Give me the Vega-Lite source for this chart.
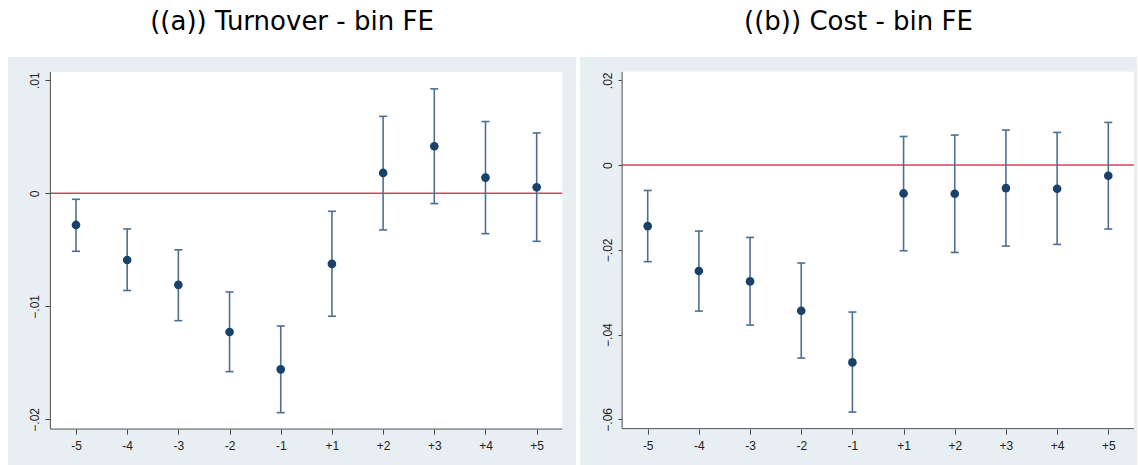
{
  "$schema": "https://vega.github.io/schema/vega-lite/v6.json",
  "background": "white",
  "padding": {"left": 8, "top": 9, "right": 0, "bottom": 0},
  "spacing": 4,
  "config": {
    "view": {"fill": "#e8eff2", "stroke": null},
    "title": {"font": "DejaVu Sans", "fontSize": 26, "fontWeight": "normal", "color": "#000000", "anchor": "middle", "baseline": "bottom", "offset": 22},
    "axis": {"labelFont": "Liberation Sans", "labelFontSize": 12, "labelColor": "#222222", "tickColor": "#444444", "tickSize": 5, "tickWidth": 1, "domain": false, "title": null, "labelFlush": false, "labelOverlap": false, "zindex": 1}
  },
  "datasets": {
    "left": [
      {"idx": 1, "k": "-5", "b": -0.0028, "lo": -0.00513, "hi": -0.00053},
      {"idx": 2, "k": "-4", "b": -0.0059, "lo": -0.0086, "hi": -0.00315},
      {"idx": 3, "k": "-3", "b": -0.0081, "lo": -0.01127, "hi": -0.0050},
      {"idx": 4, "k": "-2", "b": -0.01227, "lo": -0.01578, "hi": -0.00873},
      {"idx": 5, "k": "-1", "b": -0.01558, "lo": -0.01941, "hi": -0.01174},
      {"idx": 6, "k": "+1", "b": -0.00625, "lo": -0.01088, "hi": -0.00159},
      {"idx": 7, "k": "+2", "b": 0.0018, "lo": -0.00324, "hi": 0.00681},
      {"idx": 8, "k": "+3", "b": 0.00416, "lo": -0.00091, "hi": 0.00924},
      {"idx": 9, "k": "+4", "b": 0.00139, "lo": -0.00357, "hi": 0.00635},
      {"idx": 10, "k": "+5", "b": 0.00053, "lo": -0.00425, "hi": 0.00534}
    ],
    "right": [
      {"idx": 1, "k": "-5", "b": -0.0144, "lo": -0.0228, "hi": -0.0060},
      {"idx": 2, "k": "-4", "b": -0.0250, "lo": -0.03446, "hi": -0.01558},
      {"idx": 3, "k": "-3", "b": -0.02746, "lo": -0.03776, "hi": -0.01708},
      {"idx": 4, "k": "-2", "b": -0.03438, "lo": -0.04555, "hi": -0.02313},
      {"idx": 5, "k": "-1", "b": -0.04658, "lo": -0.05829, "hi": -0.03469},
      {"idx": 6, "k": "+1", "b": -0.0067, "lo": -0.02022, "hi": 0.00675},
      {"idx": 7, "k": "+2", "b": -0.00677, "lo": -0.02062, "hi": 0.00708},
      {"idx": 8, "k": "+3", "b": -0.00543, "lo": -0.01912, "hi": 0.00826},
      {"idx": 9, "k": "+4", "b": -0.00559, "lo": -0.01873, "hi": 0.0077},
      {"idx": 10, "k": "+5", "b": -0.00252, "lo": -0.0151, "hi": 0.01006}
    ]
  },
  "hconcat": [
    {
      "width": 568,
      "height": 409,
      "title": {"text": "((a)) Turnover - bin FE"},
      "data": {"name": "left"},
      "layer": [
        {
          "data": {"values": [{}]},
          "mark": {"type": "rect", "color": "white"},
          "encoding": {
            "x": {"datum": 0.5, "type": "quantitative",
                  "scale": {"domain": [-0.328, 10.768], "nice": false, "zero": false},
                  "axis": {"title": null, "values": [1,2,3,4,5,6,7,8,9,10], "offset": -37, "grid": false, "labelPadding": 6,
                           "labelExpr": "['-5','-4','-3','-2','-1','+1','+2','+3','+4','+5'][datum.value-1]"}},
            "x2": {"datum": 10.5},
            "y": {"datum": -0.02086, "type": "quantitative",
                  "scale": {"domain": [-0.02413, 0.01206], "nice": false, "zero": false},
                  "axis": {"title": null, "values": [-0.02, -0.01, 0, 0.01], "offset": -42, "grid": true, "gridColor": "#e6eef1", "gridWidth": 1,
                           "gridOpacity": {"condition": {"test": "datum.value === 0", "value": 0}, "value": 1},
                           "labelAngle": 270, "labelAlign": "center", "labelBaseline": "bottom", "labelPadding": 4,
                           "labelExpr": "datum.value === 0 ? '0' : replace(format(datum.value, '.2f'), '0.', '.')"}},
            "y2": {"datum": 0.01073}
          }
        },
        {
          "data": {"values": [{}]},
          "mark": {"type": "rule", "color": "#d0455f", "strokeWidth": 1.5},
          "encoding": {"x": {"datum": 0.5, "type": "quantitative"}, "x2": {"datum": 10.5}, "y": {"datum": 0, "type": "quantitative"}}
        },
        {
          "data": {"values": [{}]},
          "mark": {"type": "rule", "color": "#505050", "strokeWidth": 1},
          "encoding": {"x": {"datum": 0.5, "type": "quantitative"}, "y": {"datum": -0.02086, "type": "quantitative"}, "y2": {"datum": 0.01073}}
        },
        {
          "data": {"values": [{}]},
          "mark": {"type": "rule", "color": "#505050", "strokeWidth": 1},
          "encoding": {"x": {"datum": 0.5, "type": "quantitative"}, "x2": {"datum": 10.5}, "y": {"datum": -0.02086, "type": "quantitative"}}
        },
        {
          "mark": {"type": "rule", "color": "#4e6f91", "strokeWidth": 1.6},
          "encoding": {"x": {"field": "idx", "type": "quantitative"}, "y": {"field": "lo", "type": "quantitative"}, "y2": {"field": "hi"}}
        },
        {
          "mark": {"type": "tick", "color": "#4e6f91", "orient": "horizontal", "size": 8, "thickness": 1.6, "opacity": 1},
          "encoding": {"x": {"field": "idx", "type": "quantitative"}, "y": {"field": "lo", "type": "quantitative"}}
        },
        {
          "mark": {"type": "tick", "color": "#4e6f91", "orient": "horizontal", "size": 8, "thickness": 1.6, "opacity": 1},
          "encoding": {"x": {"field": "idx", "type": "quantitative"}, "y": {"field": "hi", "type": "quantitative"}}
        },
        {
          "mark": {"type": "circle", "color": "#1a4169", "size": 75, "opacity": 1},
          "encoding": {"x": {"field": "idx", "type": "quantitative"}, "y": {"field": "b", "type": "quantitative"}}
        }
      ]
    },
    {
      "width": 557,
      "height": 409,
      "title": {"text": "((b)) Cost - bin FE"},
      "data": {"name": "right"},
      "layer": [
        {
          "data": {"values": [{}]},
          "mark": {"type": "rect", "color": "white"},
          "encoding": {
            "x": {"datum": 0.5, "type": "quantitative",
                  "scale": {"domain": [-0.323, 10.561], "nice": false, "zero": false},
                  "axis": {"title": null, "values": [1,2,3,4,5,6,7,8,9,10], "offset": -37, "grid": false, "labelPadding": 6,
                           "labelExpr": "['-5','-4','-3','-2','-1','+1','+2','+3','+4','+5'][datum.value-1]"}},
            "x2": {"datum": 10.5},
            "y": {"datum": -0.0622, "type": "quantitative",
                  "scale": {"domain": [-0.07102, 0.0255], "nice": false, "zero": false},
                  "axis": {"title": null, "values": [-0.06, -0.04, -0.02, 0, 0.02], "offset": -43, "grid": true, "gridColor": "#e6eef1", "gridWidth": 1,
                           "gridOpacity": {"condition": {"test": "datum.value === 0", "value": 0}, "value": 1},
                           "labelAngle": 270, "labelAlign": "center", "labelBaseline": "bottom", "labelPadding": 4,
                           "labelExpr": "datum.value === 0 ? '0' : replace(format(datum.value, '.2f'), '0.', '.')"}},
            "y2": {"datum": 0.022}
          }
        },
        {
          "data": {"values": [{}]},
          "mark": {"type": "rule", "color": "#d0455f", "strokeWidth": 1.5},
          "encoding": {"x": {"datum": 0.5, "type": "quantitative"}, "x2": {"datum": 10.5}, "y": {"datum": 0, "type": "quantitative"}}
        },
        {
          "data": {"values": [{}]},
          "mark": {"type": "rule", "color": "#505050", "strokeWidth": 1},
          "encoding": {"x": {"datum": 0.5, "type": "quantitative"}, "y": {"datum": -0.0622, "type": "quantitative"}, "y2": {"datum": 0.022}}
        },
        {
          "data": {"values": [{}]},
          "mark": {"type": "rule", "color": "#505050", "strokeWidth": 1},
          "encoding": {"x": {"datum": 0.5, "type": "quantitative"}, "x2": {"datum": 10.5}, "y": {"datum": -0.0622, "type": "quantitative"}}
        },
        {
          "mark": {"type": "rule", "color": "#4e6f91", "strokeWidth": 1.6},
          "encoding": {"x": {"field": "idx", "type": "quantitative"}, "y": {"field": "lo", "type": "quantitative"}, "y2": {"field": "hi"}}
        },
        {
          "mark": {"type": "tick", "color": "#4e6f91", "orient": "horizontal", "size": 8, "thickness": 1.6, "opacity": 1},
          "encoding": {"x": {"field": "idx", "type": "quantitative"}, "y": {"field": "lo", "type": "quantitative"}}
        },
        {
          "mark": {"type": "tick", "color": "#4e6f91", "orient": "horizontal", "size": 8, "thickness": 1.6, "opacity": 1},
          "encoding": {"x": {"field": "idx", "type": "quantitative"}, "y": {"field": "hi", "type": "quantitative"}}
        },
        {
          "mark": {"type": "circle", "color": "#1a4169", "size": 75, "opacity": 1},
          "encoding": {"x": {"field": "idx", "type": "quantitative"}, "y": {"field": "b", "type": "quantitative"}}
        }
      ]
    }
  ]
}
